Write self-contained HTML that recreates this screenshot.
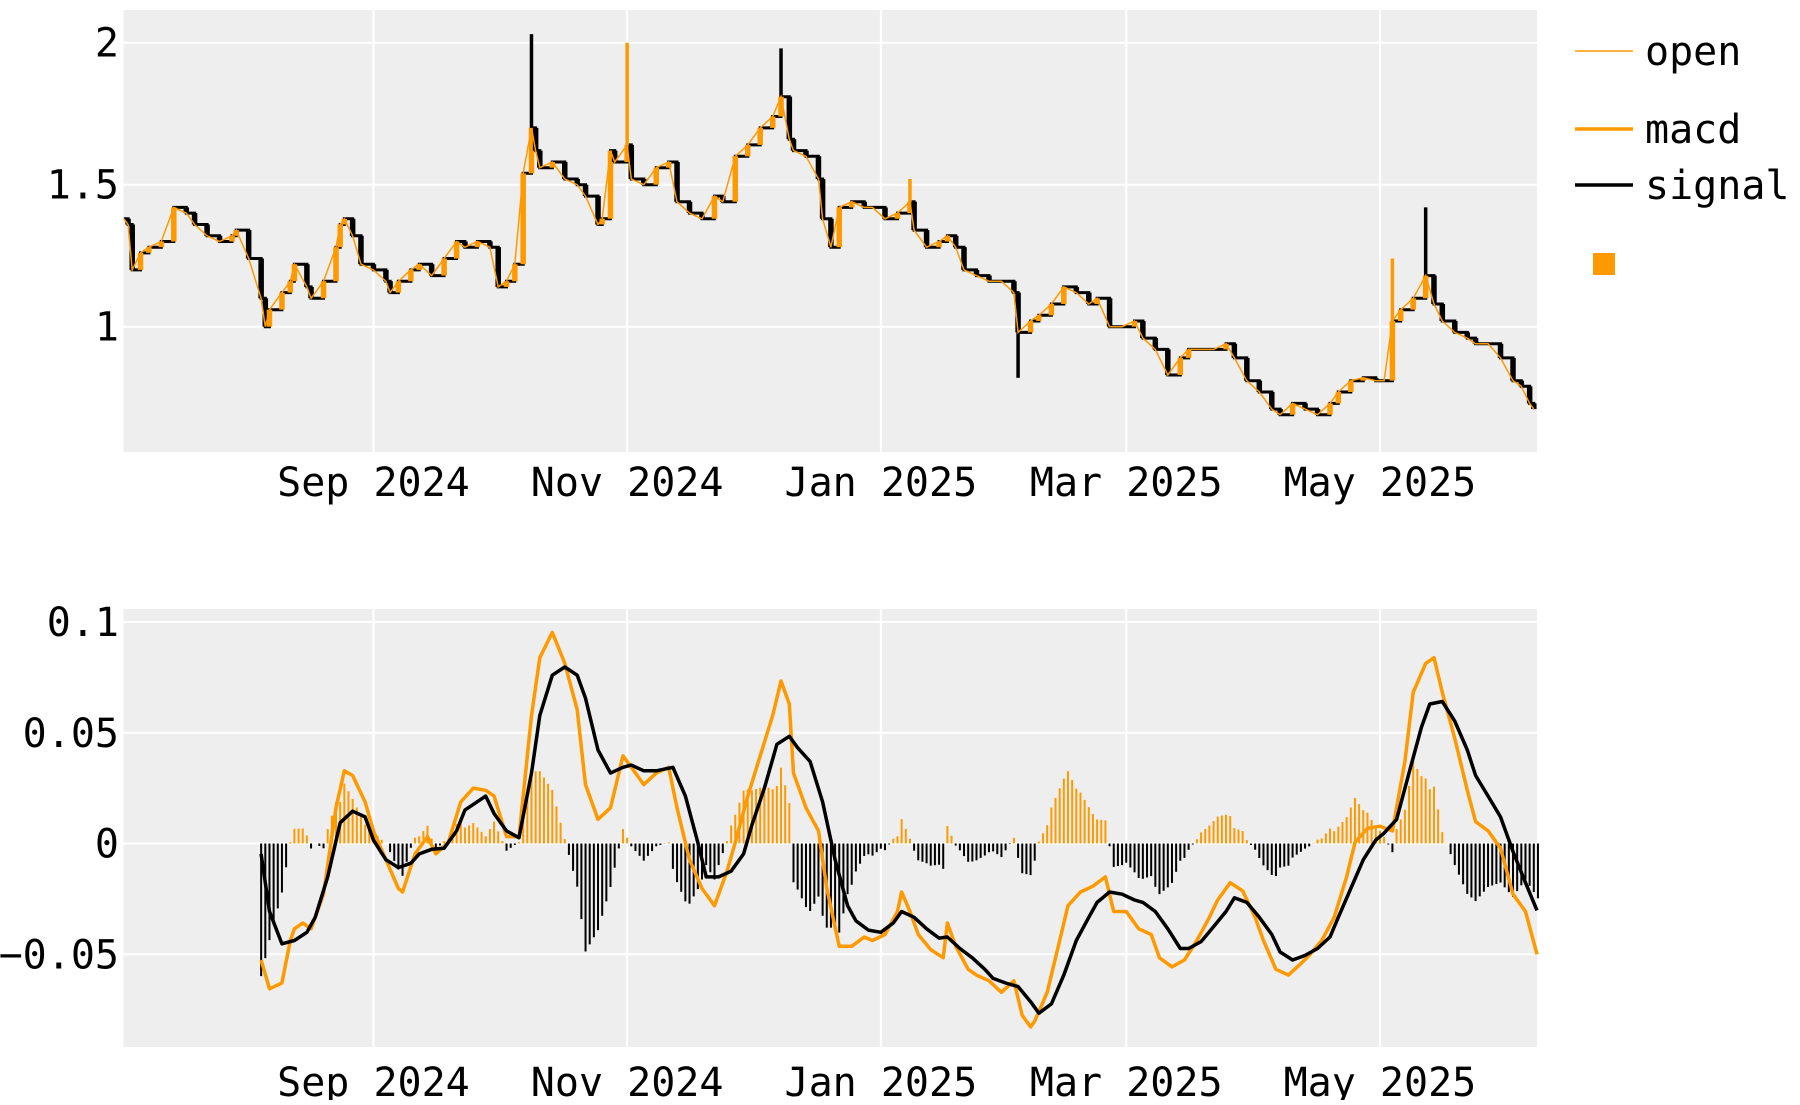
<!DOCTYPE html>
<html><head><meta charset="utf-8"><title>Price and MACD chart</title>
<style>
html,body{margin:0;padding:0;background:#fff;}
svg text{font-family:"DejaVu Sans Mono","Liberation Mono",monospace;font-size:40px;fill:#000;}
</style></head>
<body>
<svg id="chart" width="1800" height="1100" xmlns="http://www.w3.org/2000/svg">
<rect x="123.5" y="10" width="1413.5" height="442" fill="#eeeeee"/>
<rect x="123.5" y="609" width="1413.5" height="438" fill="#eeeeee"/>
<g id="grid"></g>
<g id="marks"></g>
<g id="axes"></g>
<g>
  <line x1="1575" y1="51" x2="1633" y2="51" stroke="#ff9900" stroke-width="1.5"/>
  <text x="1645" y="65">open</text>
  <line x1="1575" y1="129" x2="1633" y2="129" stroke="#ff9900" stroke-width="3.5"/>
  <text x="1645" y="143">macd</text>
  <line x1="1575" y1="185" x2="1633" y2="185" stroke="#000" stroke-width="3.5"/>
  <text x="1645" y="199">signal</text>
  <rect x="1593" y="253" width="22" height="22" fill="#ff9900"/>
</g>
</svg>
<script>
// ---- data ----
const startDate = "2024-07-03";
const priceDays = [0,1,2,4,6,9,12,15,17,20,23,26,27,30,33,34,35,38,40,41,44,45,48,51,52,53,55,57,60,63,64,66,69,71,74,77,80,82,85,88,90,92,94,96,98,99,100,103,106,109,111,114,115,117,118,121,122,125,128,131,133,136,139,142,144,147,150,153,156,158,160,161,164,167,168,170,172,175,178,180,183,186,189,190,193,196,198,200,202,205,208,211,214,215,218,220,223,226,229,232,234,237,240,243,245,248,251,254,256,259,262,265,267,270,273,276,278,281,284,287,290,292,295,298,301,303,305,307,310,313,315,317,320,323,325,328,331,334,336,338,339];
const priceVals = [1.38,1.36,1.20,1.26,1.28,1.30,1.42,1.40,1.36,1.32,1.30,1.32,1.34,1.24,1.10,1.00,1.06,1.12,1.16,1.22,1.14,1.10,1.16,1.28,1.36,1.38,1.32,1.22,1.20,1.16,1.12,1.16,1.20,1.22,1.18,1.24,1.30,1.28,1.30,1.28,1.14,1.16,1.22,1.54,1.70,1.62,1.56,1.58,1.52,1.50,1.46,1.36,1.38,1.62,1.58,1.64,1.52,1.50,1.56,1.58,1.44,1.40,1.38,1.46,1.44,1.60,1.64,1.70,1.74,1.81,1.66,1.62,1.60,1.52,1.38,1.28,1.42,1.44,1.42,1.42,1.38,1.40,1.44,1.34,1.28,1.30,1.32,1.28,1.20,1.18,1.16,1.16,1.12,0.98,1.02,1.04,1.08,1.14,1.12,1.08,1.10,1.00,1.00,1.02,0.96,0.92,0.83,0.89,0.92,0.92,0.92,0.94,0.89,0.81,0.77,0.71,0.69,0.73,0.71,0.69,0.73,0.77,0.81,0.82,0.81,0.81,1.02,1.06,1.10,1.18,1.08,1.02,0.98,0.96,0.94,0.94,0.89,0.81,0.79,0.73,0.71];
const spikeDays = [98,121,158,189,215,305,313];
const spikeVals = [2.03,2.00,1.98,1.52,0.82,1.24,1.42];

const macdDays = [33,35,38,40,41,43,45,48,51,53,55,58,60,63,66,67,70,73,75,78,81,84,87,89,92,95,98,100,103,106,109,111,114,117,120,122,125,128,131,133,136,139,142,145,147,150,153,156,158,160,161,164,167,169,172,175,178,180,183,186,187,189,191,194,197,198,200,203,205,208,211,214,216,218,219,222,225,227,230,233,236,238,241,244,247,249,252,255,258,261,263,266,269,272,274,277,280,283,285,288,291,294,296,299,302,305,308,310,313,315,317,320,323,325,328,331,334,337,340];
const macdVals = [-0.0526,-0.0656,-0.0630,-0.0438,-0.0385,-0.0359,-0.0385,-0.0229,0.0161,0.0328,0.0307,0.0188,0.0057,-0.0073,-0.0203,-0.0219,-0.0047,0.0031,-0.0047,0.0005,0.0188,0.0250,0.0240,0.0214,0.0031,0.0031,0.0578,0.0839,0.0953,0.0813,0.0604,0.0266,0.0109,0.0161,0.0396,0.0344,0.0266,0.0318,0.0344,0.0161,-0.0073,-0.0203,-0.0281,-0.0125,0.0005,0.0214,0.0396,0.0578,0.0734,0.0630,0.0318,0.0161,0.0057,-0.0203,-0.0464,-0.0464,-0.0422,-0.0438,-0.0411,-0.0307,-0.0219,-0.0307,-0.0411,-0.0479,-0.0516,-0.0359,-0.0464,-0.0568,-0.0594,-0.0620,-0.0672,-0.0620,-0.0776,-0.0828,-0.0802,-0.0672,-0.0438,-0.0281,-0.0219,-0.0193,-0.0151,-0.0307,-0.0307,-0.0385,-0.0411,-0.0516,-0.0557,-0.0526,-0.0438,-0.0333,-0.0255,-0.0177,-0.0214,-0.0333,-0.0438,-0.0568,-0.0594,-0.0542,-0.0505,-0.0438,-0.0333,-0.0151,0.0005,0.0068,0.0078,0.0057,0.0370,0.0682,0.0813,0.0839,0.0682,0.0474,0.0240,0.0099,0.0057,-0.0021,-0.0229,-0.0307,-0.0500];

const signalDays = [33,35,38,41,44,46,49,52,55,58,60,63,66,69,71,74,77,80,82,87,89,92,95,98,100,103,106,109,111,114,117,120,122,125,128,132,135,138,140,143,146,149,151,154,157,160,162,165,168,171,174,176,179,182,185,187,190,193,196,198,201,204,207,209,212,215,218,220,223,226,229,232,234,237,240,243,245,248,251,254,256,259,262,265,267,270,273,276,278,281,284,287,290,292,295,298,301,303,306,309,312,314,317,320,323,325,328,331,334,337,340];
const signalVals = [-0.0047,-0.0307,-0.0453,-0.0438,-0.0401,-0.0333,-0.0151,0.0094,0.0146,0.0120,0.0016,-0.0073,-0.0109,-0.0089,-0.0047,-0.0026,-0.0021,0.0057,0.0151,0.0214,0.0135,0.0057,0.0026,0.0318,0.0578,0.0760,0.0797,0.0760,0.0656,0.0422,0.0318,0.0344,0.0354,0.0328,0.0328,0.0344,0.0214,0.0005,-0.0151,-0.0151,-0.0125,-0.0047,0.0083,0.0250,0.0448,0.0484,0.0432,0.0370,0.0188,-0.0073,-0.0281,-0.0349,-0.0391,-0.0401,-0.0359,-0.0307,-0.0333,-0.0385,-0.0427,-0.0422,-0.0474,-0.0516,-0.0568,-0.0609,-0.0630,-0.0646,-0.0714,-0.0766,-0.0724,-0.0594,-0.0438,-0.0333,-0.0266,-0.0219,-0.0229,-0.0255,-0.0266,-0.0307,-0.0385,-0.0474,-0.0474,-0.0443,-0.0375,-0.0307,-0.0245,-0.0266,-0.0333,-0.0411,-0.0490,-0.0526,-0.0505,-0.0474,-0.0422,-0.0333,-0.0203,-0.0073,0.0016,0.0047,0.0109,0.0318,0.0526,0.0630,0.0641,0.0552,0.0422,0.0307,0.0214,0.0120,-0.0036,-0.0177,-0.0302];

const xTickLabels = ["Sep 2024","Nov 2024","Jan 2025","Mar 2025","May 2025"];
const xTickDays = [60,121,182,241,302];
const priceTicks = [1,1.5,2];
const priceTickLabels = ["1","1.5","2"];
const macdTicks = [-0.05,0,0.05,0.1];
const macdTickLabels = ["\u22120.05","0","0.05","0.1"];

// ---- scales ----
const X0 = 123.9, PXD = 4.159;
const XR = 1537;
function x(d){ return X0 + d*PXD; }
function yP(v){ return 326.7 - (v-1)*284; }
function yM(v){ return 843.5 - v*2215; }
const HIST_SCALE = 1.25;

const NS = "http://www.w3.org/2000/svg";
function mk(tag, attrs, parent){
  const e = document.createElementNS(NS, tag);
  for (const k in attrs) e.setAttribute(k, attrs[k]);
  parent.appendChild(e); return e;
}
const grid = document.getElementById('grid');
const marks = document.getElementById('marks');
const axes = document.getElementById('axes');

// grid
xTickDays.forEach((d,i)=>{
  [[10,452],[609,1047]].forEach((r,j)=>{
    const l = mk('line',{x1:x(d),x2:x(d),y1:r[0],y2:r[1],stroke:'#fff','stroke-width':2},grid);
    
    
  });
  [482,1082].forEach((yy,j)=>{
    const t = mk('text',{x:x(d),y:yy+14,'text-anchor':'middle'},axes);
    t.textContent = xTickLabels[i];
    
    
  });
});
priceTicks.forEach((v,i)=>{
  const l = mk('line',{x1:123.5,x2:XR,y1:yP(v),y2:yP(v),stroke:'#fff','stroke-width':2},grid);
  
  
  const t = mk('text',{x:119,y:yP(v)+14,'text-anchor':'end'},axes);
  t.textContent = priceTickLabels[i];
  
  
});
macdTicks.forEach((v,i)=>{
  const l = mk('line',{x1:123.5,x2:XR,y1:yM(v),y2:yM(v),stroke:'#fff','stroke-width':2},grid);
  
  
  const t = mk('text',{x:119,y:yM(v)+14,'text-anchor':'end'},axes);
  t.textContent = macdTickLabels[i];
  
  
});

// price step line (black) under bars
let stepD = 'M'+x(priceDays[0]).toFixed(1)+','+yP(priceVals[0]).toFixed(1);
for (let i=1;i<priceVals.length;i++){
  stepD += ' H'+x(priceDays[i]).toFixed(1)+' V'+yP(priceVals[i]).toFixed(1);
}
const step = mk('path',{d:stepD,fill:'none',stroke:'#000','stroke-width':3},marks);



// price bars
for (let i=1;i<priceVals.length;i++){
  const up = priceVals[i] >= priceVals[i-1];
  const b = mk('line',{x1:x(priceDays[i]),x2:x(priceDays[i]),y1:yP(priceVals[i-1]),y2:yP(priceVals[i]),stroke:up?'#ff9900':'#000','stroke-width':5.5},marks);
  
  
}
function nearestPrice(d){
  let best=0; for(let i=0;i<priceDays.length;i++) if(Math.abs(priceDays[i]-d)<Math.abs(priceDays[best]-d)) best=i;
  return priceVals[best];
}
spikeDays.forEach((d,i)=>{
  const base = nearestPrice(d);
  const s = mk('line',{x1:x(d),x2:x(d),y1:yP(base),y2:yP(spikeVals[i]),stroke:(i%2===0)?'#000':'#ff9900','stroke-width':3.5},marks);
  
  
});
let pd = priceDays.map((d,i)=>(i?'L':'M')+x(d).toFixed(1)+','+yP(priceVals[i]).toFixed(1)).join(' ');
const open = mk('path',{d:pd,fill:'none',stroke:'#ff9900','stroke-width':1.5},marks);



// histogram (macd - signal)
function interp(days, vals, d){
  if (d<=days[0]) return vals[0];
  for (let i=1;i<days.length;i++){
    if (d<=days[i]){ const t=(d-days[i-1])/(days[i]-days[i-1]); return vals[i-1]+t*(vals[i]-vals[i-1]); }
  }
  return vals[vals.length-1];
}
for (let d=macdDays[0]; d<=macdDays[macdDays.length-1]; d++){
  const h = (interp(macdDays,macdVals,d) - interp(signalDays,signalVals,d))*HIST_SCALE;
  const y1 = yM(0), y2 = yM(h);
  const r = mk('rect',{x:x(d)-1,y:Math.min(y1,y2),width:2,height:Math.abs(y2-y1),fill:h>=0?'#ff9900':'#000'},marks);
  
  
}
const mp = mk('path',{d:macdDays.map((d,i)=>(i?'L':'M')+Math.min(x(d),XR).toFixed(1)+','+yM(macdVals[i]).toFixed(1)).join(' '),fill:'none',stroke:'#ff9900','stroke-width':3.5,'stroke-linejoin':'round'},marks);


const sp = mk('path',{d:signalDays.map((d,i)=>(i?'L':'M')+Math.min(x(d),XR).toFixed(1)+','+yM(signalVals[i]).toFixed(1)).join(' '),fill:'none',stroke:'#000','stroke-width':3.5,'stroke-linejoin':'round'},marks);


</script>
</body></html>
